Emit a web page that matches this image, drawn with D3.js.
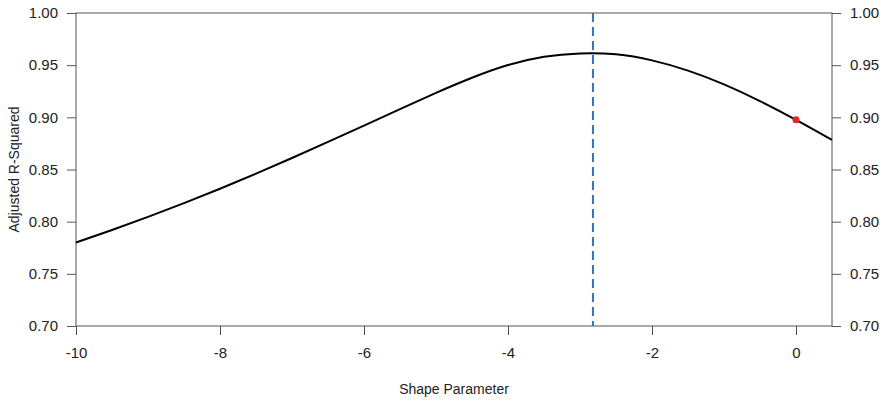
<!DOCTYPE html>
<html lang="en">
<head>
<meta charset="utf-8">
<title>Adjusted R-Squared vs Shape Parameter</title>
<script src="https://cdn.jsdelivr.net/npm/d3@7/dist/d3.min.js"></script>
<style>
  body { margin: 0; background: #fff; }
  svg { display: block; font-family: "Liberation Sans", Arial, sans-serif; }
  .tick text { font-size: 15px; fill: #222; }
  .axis path, .axis line { stroke: #555; }
</style>
</head>
<body>
<svg id="chart" width="885" height="401"></svg>
<script>
// values
var shapeValues = [-10, -9.5, -9, -8.5, -8, -7.5, -7, -6.5, -6, -5.5, -5, -4.5, -4, -3.5, -3, -2.5, -2, -1.5, -1, -0.5, 0, 0.5];
var adjR2 = [0.7800, 0.7920, 0.8046, 0.8178, 0.8316, 0.8460, 0.8610, 0.8764, 0.8921, 0.9079, 0.9234, 0.9379, 0.9501, 0.9581, 0.9613, 0.9604, 0.9546, 0.9448, 0.9316, 0.9156, 0.8976, 0.8784];
var xTicks = [-10, -8, -6, -4, -2, 0];
var yTicks = [0.70, 0.75, 0.80, 0.85, 0.90, 0.95, 1.00];
var bestShape = -2.82;       // dashed line
var markPoint = [0, 0.8976]; // red point

var svg = d3.select('#chart');
var mLeft = 76, mRight = 832, mTop = 13, mBottom = 326;

var x = d3.scaleLinear().domain([-10, 0.5]).range([mLeft, mRight]);
var y = d3.scaleLinear().domain([0.70, 1.00]).range([mBottom, mTop]);

var data = shapeValues.map(function(d, i) { return { x: d, y: adjR2[i] }; });

// frame
svg.append('rect')
  .attr('x', mLeft).attr('y', mTop)
  .attr('width', mRight - mLeft).attr('height', mBottom - mTop)
  .attr('fill', 'none').attr('stroke', '#555').attr('stroke-width', 1);

// axes
var xAxis = svg.append('g')
  .attr('class', 'axis')
  .attr('transform', 'translate(0,' + mBottom + ')')
  .call(d3.axisBottom(x).tickValues(xTicks).tickSize(9).tickPadding(12)
    .tickFormat(function(d) { return String(d); }));

var yLeft = svg.append('g')
  .attr('class', 'axis')
  .attr('transform', 'translate(' + mLeft + ',0)')
  .call(d3.axisLeft(y).tickValues(yTicks).tickSize(9).tickPadding(9)
    .tickFormat(d3.format('.2f')));

var yRight = svg.append('g')
  .attr('class', 'axis')
  .attr('transform', 'translate(' + mRight + ',0)')
  .call(d3.axisRight(y).tickValues(yTicks).tickSize(9).tickPadding(9)
    .tickFormat(d3.format('.2f')));

[xAxis, yLeft, yRight].forEach(function(g) {
  g.select('.domain').remove();
  g.selectAll('.tick text').style('font-family', '"Liberation Sans", Arial, sans-serif');
});

// dashed vertical line at the optimum
svg.append('line')
  .attr('x1', x(bestShape)).attr('x2', x(bestShape))
  .attr('y1', mTop).attr('y2', mBottom)
  .attr('stroke', '#3473bd')
  .attr('stroke-width', 2)
  .attr('stroke-dasharray', '9,5');

// curve
var line = d3.line()
  .x(function(d) { return x(d.x); })
  .y(function(d) { return y(d.y); })
  .curve(d3.curveNatural);

svg.append('path')
  .datum(data)
  .attr('d', line)
  .attr('fill', 'none')
  .attr('stroke', '#000')
  .attr('stroke-width', 2);

svg.append('circle')
  .attr('cx', x(markPoint[0]))
  .attr('cy', y(markPoint[1]))
  .attr('r', 3.5)
  .attr('fill', '#e8262a');

// titles
svg.append('text')
  .attr('x', (mLeft + mRight) / 2)
  .attr('y', 394)
  .attr('text-anchor', 'middle')
  .style('font-size', '14px')
  .attr('fill', '#222')
  .text('Shape Parameter');

svg.append('text')
  .attr('transform', 'translate(19,' + ((mTop + mBottom) / 2) + ') rotate(-90)')
  .attr('text-anchor', 'middle')
  .style('font-size', '14px')
  .attr('fill', '#222')
  .text('Adjusted R-Squared');
</script>
</body>
</html>
